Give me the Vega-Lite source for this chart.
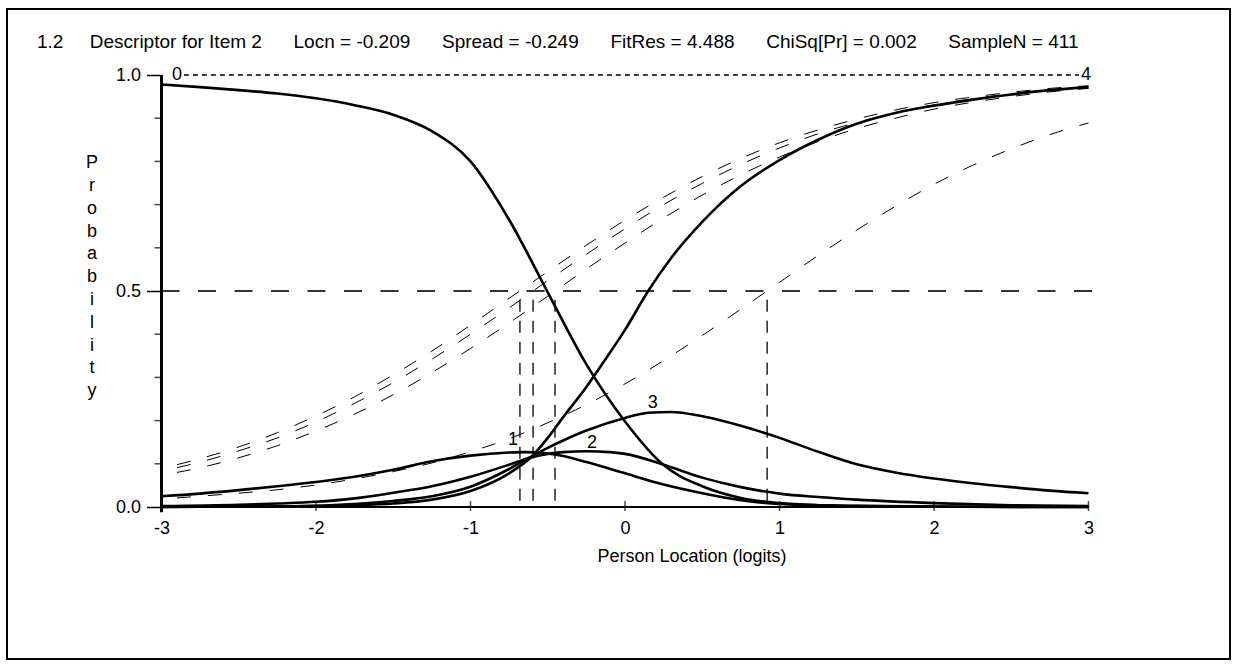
{
 "$schema": "https://vega.github.io/schema/vega-lite/v6.json",
 "width": 1223, "height": 650,
 "autosize": {"type": "none"},
 "padding": {"left": 7, "top": 9, "right": 11, "bottom": 12},
 "background": "white",
 "config": {
  "view": {"stroke": "black", "strokeWidth": 2},
  "font": "Liberation Sans",
  "axis": {"labelFont": "Liberation Sans", "labelFontSize": 18, "labelColor": "black", "tickColor": "black", "grid": false, "domain": false}
 },
 "datasets": {
  "thr": [
   {"t":"1","x":-2.9,"p":0.098},{"t":"1","x":-2.75,"p":0.112},{"t":"1","x":-2.5,"p":0.139},{"t":"1","x":-2.25,"p":0.172},{"t":"1","x":-2,"p":0.211},{"t":"1","x":-1.75,"p":0.255},{"t":"1","x":-1.5,"p":0.306},{"t":"1","x":-1.25,"p":0.361},{"t":"1","x":-1,"p":0.421},{"t":"1","x":-0.75,"p":0.483},{"t":"1","x":-0.5,"p":0.545},{"t":"1","x":-0.25,"p":0.606},{"t":"1","x":0,"p":0.664},{"t":"1","x":0.25,"p":0.717},{"t":"1","x":0.5,"p":0.765},{"t":"1","x":0.75,"p":0.807},{"t":"1","x":1,"p":0.843},{"t":"1","x":1.25,"p":0.873},{"t":"1","x":1.5,"p":0.898},{"t":"1","x":1.75,"p":0.919},{"t":"1","x":2,"p":0.936},{"t":"1","x":2.25,"p":0.949},{"t":"1","x":2.5,"p":0.96},{"t":"1","x":2.75,"p":0.969},{"t":"1","x":3,"p":0.975},
   {"t":"2","x":-2.9,"p":0.091},{"t":"2","x":-2.75,"p":0.104},{"t":"2","x":-2.5,"p":0.13},{"t":"2","x":-2.25,"p":0.16},{"t":"2","x":-2,"p":0.197},{"t":"2","x":-1.75,"p":0.24},{"t":"2","x":-1.5,"p":0.288},{"t":"2","x":-1.25,"p":0.342},{"t":"2","x":-1,"p":0.4},{"t":"2","x":-0.75,"p":0.461},{"t":"2","x":-0.5,"p":0.524},{"t":"2","x":-0.25,"p":0.585},{"t":"2","x":0,"p":0.644},{"t":"2","x":0.25,"p":0.7},{"t":"2","x":0.5,"p":0.749},{"t":"2","x":0.75,"p":0.793},{"t":"2","x":1,"p":0.831},{"t":"2","x":1.25,"p":0.864},{"t":"2","x":1.5,"p":0.89},{"t":"2","x":1.75,"p":0.913},{"t":"2","x":2,"p":0.931},{"t":"2","x":2.25,"p":0.945},{"t":"2","x":2.5,"p":0.957},{"t":"2","x":2.75,"p":0.966},{"t":"2","x":3,"p":0.973},
   {"t":"3","x":-2.9,"p":0.08},{"t":"3","x":-2.75,"p":0.091},{"t":"3","x":-2.5,"p":0.114},{"t":"3","x":-2.25,"p":0.142},{"t":"3","x":-2,"p":0.176},{"t":"3","x":-1.75,"p":0.215},{"t":"3","x":-1.5,"p":0.26},{"t":"3","x":-1.25,"p":0.311},{"t":"3","x":-1,"p":0.367},{"t":"3","x":-0.75,"p":0.426},{"t":"3","x":-0.5,"p":0.488},{"t":"3","x":-0.25,"p":0.551},{"t":"3","x":0,"p":0.611},{"t":"3","x":0.25,"p":0.669},{"t":"3","x":0.5,"p":0.722},{"t":"3","x":0.75,"p":0.769},{"t":"3","x":1,"p":0.81},{"t":"3","x":1.25,"p":0.846},{"t":"3","x":1.5,"p":0.876},{"t":"3","x":1.75,"p":0.9},{"t":"3","x":2,"p":0.921},{"t":"3","x":2.25,"p":0.937},{"t":"3","x":2.5,"p":0.95},{"t":"3","x":2.75,"p":0.961},{"t":"3","x":3,"p":0.969},
   {"t":"4","x":-2.9,"p":0.021},{"t":"4","x":-2.75,"p":0.025},{"t":"4","x":-2.5,"p":0.032},{"t":"4","x":-2.25,"p":0.04},{"t":"4","x":-2,"p":0.051},{"t":"4","x":-1.75,"p":0.065},{"t":"4","x":-1.5,"p":0.082},{"t":"4","x":-1.25,"p":0.102},{"t":"4","x":-1,"p":0.128},{"t":"4","x":-0.75,"p":0.158},{"t":"4","x":-0.5,"p":0.195},{"t":"4","x":-0.25,"p":0.237},{"t":"4","x":0,"p":0.285},{"t":"4","x":0.25,"p":0.339},{"t":"4","x":0.5,"p":0.397},{"t":"4","x":0.75,"p":0.458},{"t":"4","x":1,"p":0.52},{"t":"4","x":1.25,"p":0.582},{"t":"4","x":1.5,"p":0.641},{"t":"4","x":1.75,"p":0.696},{"t":"4","x":2,"p":0.747},{"t":"4","x":2.25,"p":0.791},{"t":"4","x":2.5,"p":0.829},{"t":"4","x":2.75,"p":0.862},{"t":"4","x":3,"p":0.889}
  ],
  "cats": [
   {"c":"0","x":-3,"p":0.978},{"c":"0","x":-2.75,"p":0.972},{"c":"0","x":-2.5,"p":0.965},{"c":"0","x":-2.25,"p":0.957},{"c":"0","x":-2,"p":0.946},{"c":"0","x":-1.75,"p":0.93},{"c":"0","x":-1.5,"p":0.908},{"c":"0","x":-1.25,"p":0.87},{"c":"0","x":-1,"p":0.8},{"c":"0","x":-0.75,"p":0.665},{"c":"0","x":-0.5,"p":0.497},{"c":"0","x":-0.25,"p":0.33},{"c":"0","x":0,"p":0.198},{"c":"0","x":0.25,"p":0.097},{"c":"0","x":0.5,"p":0.048},{"c":"0","x":0.75,"p":0.021},{"c":"0","x":1,"p":0.009},{"c":"0","x":1.25,"p":0.004},{"c":"0","x":1.5,"p":0.002},{"c":"0","x":2,"p":0.001},{"c":"0","x":2.5,"p":0},{"c":"0","x":3,"p":0},
   {"c":"1","x":-3,"p":0.025},{"c":"1","x":-2.75,"p":0.031},{"c":"1","x":-2.5,"p":0.039},{"c":"1","x":-2.25,"p":0.048},{"c":"1","x":-2,"p":0.058},{"c":"1","x":-1.75,"p":0.07},{"c":"1","x":-1.5,"p":0.086},{"c":"1","x":-1.25,"p":0.106},{"c":"1","x":-1,"p":0.119},{"c":"1","x":-0.75,"p":0.126},{"c":"1","x":-0.65,"p":0.127},{"c":"1","x":-0.5,"p":0.124},{"c":"1","x":-0.4,"p":0.118},{"c":"1","x":-0.25,"p":0.104},{"c":"1","x":0,"p":0.078},{"c":"1","x":0.25,"p":0.052},{"c":"1","x":0.5,"p":0.032},{"c":"1","x":0.75,"p":0.016},{"c":"1","x":1,"p":0.007},{"c":"1","x":1.5,"p":0.003},{"c":"1","x":2,"p":0.001},{"c":"1","x":3,"p":0},
   {"c":"2","x":-3,"p":0.002},{"c":"2","x":-2.5,"p":0.005},{"c":"2","x":-2.25,"p":0.008},{"c":"2","x":-2,"p":0.012},{"c":"2","x":-1.75,"p":0.02},{"c":"2","x":-1.5,"p":0.033},{"c":"2","x":-1.25,"p":0.048},{"c":"2","x":-1,"p":0.07},{"c":"2","x":-0.75,"p":0.098},{"c":"2","x":-0.6,"p":0.116},{"c":"2","x":-0.5,"p":0.123},{"c":"2","x":-0.4,"p":0.127},{"c":"2","x":-0.25,"p":0.129},{"c":"2","x":-0.1,"p":0.127},{"c":"2","x":0,"p":0.123},{"c":"2","x":0.25,"p":0.098},{"c":"2","x":0.5,"p":0.068},{"c":"2","x":0.75,"p":0.046},{"c":"2","x":1,"p":0.031},{"c":"2","x":1.25,"p":0.023},{"c":"2","x":1.5,"p":0.017},{"c":"2","x":2,"p":0.009},{"c":"2","x":2.5,"p":0.004},{"c":"2","x":3,"p":0.002},
   {"c":"3","x":-3,"p":0},{"c":"3","x":-2.5,"p":0.001},{"c":"3","x":-2,"p":0.003},{"c":"3","x":-1.75,"p":0.007},{"c":"3","x":-1.5,"p":0.014},{"c":"3","x":-1.25,"p":0.025},{"c":"3","x":-1,"p":0.047},{"c":"3","x":-0.75,"p":0.088},{"c":"3","x":-0.6,"p":0.118},{"c":"3","x":-0.5,"p":0.137},{"c":"3","x":-0.4,"p":0.154},{"c":"3","x":-0.25,"p":0.177},{"c":"3","x":0,"p":0.206},{"c":"3","x":0.15,"p":0.218},{"c":"3","x":0.3,"p":0.22},{"c":"3","x":0.5,"p":0.21},{"c":"3","x":0.75,"p":0.188},{"c":"3","x":1,"p":0.16},{"c":"3","x":1.25,"p":0.128},{"c":"3","x":1.5,"p":0.099},{"c":"3","x":1.75,"p":0.08},{"c":"3","x":2,"p":0.066},{"c":"3","x":2.25,"p":0.055},{"c":"3","x":2.5,"p":0.046},{"c":"3","x":2.75,"p":0.038},{"c":"3","x":3,"p":0.032},
   {"c":"4","x":-3,"p":0},{"c":"4","x":-2.5,"p":0.001},{"c":"4","x":-2,"p":0.002},{"c":"4","x":-1.75,"p":0.004},{"c":"4","x":-1.5,"p":0.008},{"c":"4","x":-1.25,"p":0.017},{"c":"4","x":-1,"p":0.037},{"c":"4","x":-0.75,"p":0.078},{"c":"4","x":-0.6,"p":0.118},{"c":"4","x":-0.5,"p":0.16},{"c":"4","x":-0.4,"p":0.208},{"c":"4","x":-0.25,"p":0.278},{"c":"4","x":-0.1,"p":0.356},{"c":"4","x":0,"p":0.41},{"c":"4","x":0.15,"p":0.5},{"c":"4","x":0.3,"p":0.577},{"c":"4","x":0.5,"p":0.66},{"c":"4","x":0.75,"p":0.743},{"c":"4","x":1,"p":0.803},{"c":"4","x":1.25,"p":0.85},{"c":"4","x":1.5,"p":0.887},{"c":"4","x":1.75,"p":0.912},{"c":"4","x":2,"p":0.929},{"c":"4","x":2.25,"p":0.943},{"c":"4","x":2.5,"p":0.955},{"c":"4","x":2.75,"p":0.965},{"c":"4","x":3,"p":0.972}
  ],
  "labels": [
   {"c":"0","x":-2.9,"p":1.0},{"c":"1","x":-0.725,"p":0.155},{"c":"2","x":-0.213,"p":0.148},{"c":"3","x":0.18,"p":0.24},{"c":"4","x":2.984,"p":1.0}
  ],
  "taus": [{"x":-0.68},{"x":-0.595},{"x":-0.453},{"x":0.92}],
  "xticks": [{"x":-2},{"x":-1},{"x":0},{"x":1},{"x":2},{"x":3}],
  "yticks": [{"p":0.1},{"p":0.2},{"p":0.3},{"p":0.4},{"p":0.6},{"p":0.7},{"p":0.8},{"p":0.9}]
 },
 "layer": [
  {"data": {"name": "thr"}, "mark": {"type": "line", "stroke": "black", "strokeWidth": 1, "strokeDash": [14, 17], "interpolate": "monotone"},
   "encoding": {
    "x": {"field": "x", "type": "quantitative", "scale": {"domain": [-4, 3.9159], "nice": false, "zero": false}},
    "y": {"field": "p", "type": "quantitative", "scale": {"domain": [-0.35185, 1.15278], "nice": false, "zero": false}},
    "detail": {"field": "t"}}},
  {"data": {"name": "taus"}, "mark": {"type": "rule", "stroke": "black", "strokeWidth": 1.3, "strokeDash": [12, 9]},
   "encoding": {
    "x": {"field": "x", "type": "quantitative", "scale": {"domain": [-4, 3.9159], "nice": false, "zero": false}},
    "y": {"datum": 0.48, "type": "quantitative"}, "y2": {"datum": 0}}},
  {"data": {"values": [{}]}, "mark": {"type": "rule", "stroke": "#333", "strokeWidth": 2, "strokeDash": [18, 18.5]},
   "encoding": {"x": {"datum": -3, "type": "quantitative"}, "x2": {"datum": 3.12}, "y": {"datum": 0.5, "type": "quantitative"}}},
  {"data": {"values": [{}]}, "mark": {"type": "rule", "stroke": "black", "strokeWidth": 1.3, "strokeDash": [5, 4]},
   "encoding": {"x": {"datum": -2.855, "type": "quantitative"}, "x2": {"datum": 2.938}, "y": {"datum": 1, "type": "quantitative"}}},
  {"data": {"values": [{}]}, "mark": {"type": "rule", "stroke": "black", "strokeWidth": 3},
   "encoding": {"x": {"datum": -3, "type": "quantitative"}, "y": {"datum": -0.012, "type": "quantitative"}, "y2": {"datum": 1}}},
  {"data": {"values": [{}]}, "mark": {"type": "rule", "stroke": "black", "strokeWidth": 2},
   "encoding": {"x": {"datum": -3, "type": "quantitative"}, "x2": {"datum": 3}, "y": {"datum": 0, "type": "quantitative"}}},
  {"data": {"name": "xticks"}, "mark": {"type": "tick", "orient": "vertical", "size": 10, "thickness": 1.5, "color": "black", "yOffset": -1},
   "encoding": {"x": {"field": "x", "type": "quantitative"}, "y": {"datum": 0, "type": "quantitative"}}},
  {"data": {"name": "yticks"}, "mark": {"type": "tick", "orient": "horizontal", "size": 7, "thickness": 1.5, "color": "black", "xOffset": -3.5},
   "encoding": {"x": {"datum": -3, "type": "quantitative"}, "y": {"field": "p", "type": "quantitative"}}},
  {"data": {"name": "cats"}, "mark": {"type": "line", "stroke": "black", "strokeWidth": 2.6, "interpolate": "monotone"},
   "encoding": {
    "x": {"field": "x", "type": "quantitative", "scale": {"domain": [-4, 3.9159], "nice": false, "zero": false},
          "axis": {"orient": "bottom", "offset": -152, "values": [-3,-2,-1,0,1,2,3], "ticks": false, "tickSize": 0, "labelPadding": 12, "labelExpr": "'' + datum.value", "title": null}},
    "y": {"field": "p", "type": "quantitative", "scale": {"domain": [-0.35185, 1.15278], "nice": false, "zero": false},
          "axis": {"orient": "left", "offset": -154.5, "values": [0, 0.5, 1], "tickSize": 15, "tickWidth": 1.5, "labelPadding": 6, "labelExpr": "datum.value == 0 ? '0.0' : datum.value == 1 ? '1.0' : '0.5'", "title": null}},
    "detail": {"field": "c"}}},
  {"data": {"name": "labels"}, "mark": {"type": "text", "fontSize": 18, "align": "center", "baseline": "middle", "color": "black"},
   "encoding": {"x": {"field": "x", "type": "quantitative"}, "y": {"field": "p", "type": "quantitative"}, "text": {"field": "c"}}},
  {"data": {"values": [{}]}, "mark": {"type": "text", "fontSize": 19, "align": "left", "baseline": "middle", "color": "black",
    "text": "1.2\u00a0\u00a0\u00a0\u00a0\u00a0Descriptor for Item 2\u00a0\u00a0\u00a0\u00a0\u00a0\u00a0Locn = -0.209\u00a0\u00a0\u00a0\u00a0\u00a0\u00a0Spread = -0.249\u00a0\u00a0\u00a0\u00a0\u00a0\u00a0FitRes = 4.488\u00a0\u00a0\u00a0\u00a0\u00a0\u00a0ChiSq[Pr] = 0.002\u00a0\u00a0\u00a0\u00a0\u00a0\u00a0SampleN = 411"},
   "encoding": {"x": {"datum": -3.806, "type": "quantitative"}, "y": {"datum": 1.0764, "type": "quantitative"}}},
  {"data": {"values": [{}]}, "mark": {"type": "text", "fontSize": 18, "align": "center", "baseline": "middle", "color": "black", "text": "Person Location (logits)"},
   "encoding": {"x": {"datum": 0.434, "type": "quantitative"}, "y": {"datum": -0.1157, "type": "quantitative"}}},
  {"data": {"values": [{}]}, "mark": {"type": "text", "fontSize": 18, "align": "center", "baseline": "middle", "color": "black", "lineHeight": 22.8,
    "text": ["P","r","o","b","a","b","i","l","i","t","y"]},
   "encoding": {"x": {"datum": -3.45, "type": "quantitative"}, "y": {"datum": 0.796, "type": "quantitative"}}}
 ]
}
